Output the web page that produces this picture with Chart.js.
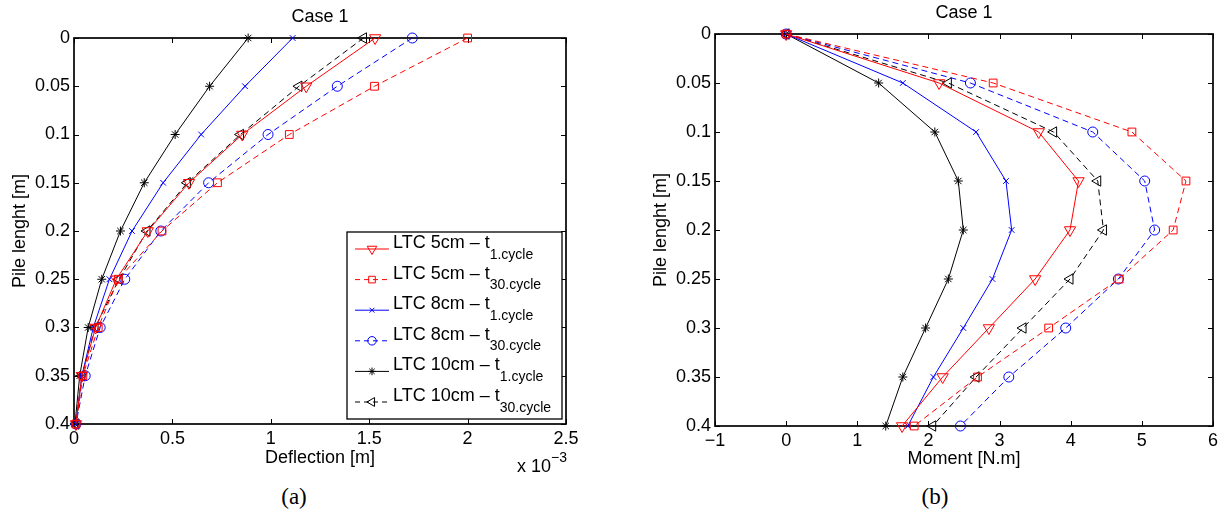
<!DOCTYPE html>
<html>
<head>
<meta charset="utf-8">
<script src="https://cdn.jsdelivr.net/npm/chart.js@4.4.1/dist/chart.umd.min.js"></script>
<style>
  body { margin: 0; background: #fff; }
  #wrap { position: relative; width: 1229px; height: 516px; background: #fff; overflow: hidden; }
  .panel { position: absolute; top: 0; height: 480px; }
  .cap { position: absolute; top: 483px; font-family: "Liberation Serif", "Times New Roman", serif;
         font-size: 23px; line-height: 28px; transform: translateX(-50%); color: #000; }
</style>
</head>
<body>
<div id="wrap">
  <div class="panel" style="left:0;width:640px"><canvas id="deflectionChart"></canvas></div>
  <div class="panel" style="left:640px;width:589px"><canvas id="momentChart"></canvas></div>
  <div class="cap" style="left:294px">(a)</div>
  <div class="cap" style="left:935px">(b)</div>
</div>
<script>
// depth along the pile [m]
const depth = [0, 0.05, 0.1, 0.15, 0.2, 0.25, 0.3, 0.35, 0.4];

// deflection, in units of 1e-3 m (axis shows "x 10^-3")
const deflLtc5First   = [1.53, 1.18, 0.855, 0.584, 0.375, 0.215, 0.11, 0.04, 0.01];
const deflLtc5Last    = [2.00, 1.527, 1.094, 0.729, 0.447, 0.225, 0.123, 0.045, 0.01];
const deflLtc8First   = [1.111, 0.869, 0.646, 0.453, 0.295, 0.18, 0.098, 0.04, 0.01];
const deflLtc8Last    = [1.719, 1.338, 0.986, 0.684, 0.441, 0.258, 0.133, 0.057, 0.01];
const deflLtc10First  = [0.885, 0.689, 0.514, 0.357, 0.236, 0.141, 0.072, 0.029, 0.005];
const deflLtc10Last   = [1.471, 1.143, 0.846, 0.576, 0.371, 0.229, 0.107, 0.04, 0.01];

// bending moment [N.m]
const momLtc5First   = [0, 2.15, 3.55, 4.11, 3.99, 3.50, 2.85, 2.20, 1.63];
const momLtc5Last    = [0, 2.91, 4.86, 5.62, 5.44, 4.68, 3.69, 2.69, 1.80];
const momLtc8First   = [0, 1.64, 2.67, 3.09, 3.17, 2.90, 2.49, 2.07, 1.71];
const momLtc8Last    = [0, 2.59, 4.31, 5.04, 5.18, 4.67, 3.93, 3.13, 2.45];
const momLtc10First  = [0, 1.30, 2.09, 2.42, 2.49, 2.28, 1.96, 1.64, 1.40];
const momLtc10Last   = [0, 2.28, 3.76, 4.38, 4.46, 3.99, 3.33, 2.67, 2.06];

const seriesNames = ["LTC 5cm \u2013 t", "LTC 5cm \u2013 t", "LTC 8cm \u2013 t",
                     "LTC 8cm \u2013 t", "LTC 10cm \u2013 t", "LTC 10cm \u2013 t"];
const seriesSubs  = ["1.cycle", "30.cycle", "1.cycle", "30.cycle", "1.cycle", "30.cycle"];

const deflTicks = [0, 0.5, 1, 1.5, 2, 2.5];
const momentTicks = [-1, 0, 1, 2, 3, 4, 5, 6];
const depthTicks = [0, 0.05, 0.1, 0.15, 0.2, 0.25, 0.3, 0.35, 0.4];

// styling per series (kept apart from the data)
const seriesColors  = ["#ff0000", "#ff0000", "#0000ff", "#0000ff", "#000000", "#000000"];
const seriesDashed  = [false, true, false, true, false, true];
const seriesMarkers = ["triangle", "rect", "crossRot", "circle", "star", "triangle"];
const seriesRot     = [180, 0, 0, 0, 0, 270];
const seriesRadius  = [6.5, 5.5, 4, 5, 4.5, 6];

const plotFont = "'Liberation Sans', Arial, Helvetica, sans-serif";
const clear = "rgba(0,0,0,0)";

function buildSets(xSeries) {
  return xSeries.map((xs, i) => ({
    label: seriesNames[i] + seriesSubs[i],
    data: depth.map((d, k) => ({ x: xs[k], y: d })),
    borderColor: seriesColors[i],
    backgroundColor: clear,
    borderWidth: 1,
    borderDash: seriesDashed[i] ? [6, 4] : [],
    pointStyle: seriesMarkers[i],
    pointRotation: seriesRot[i],
    pointRadius: seriesRadius[i],
    pointHoverRadius: seriesRadius[i],
    pointBorderColor: seriesColors[i],
    pointBackgroundColor: clear,
    pointBorderWidth: 1,
    tension: 0,
    clip: false
  }));
}

// box round the plot and inward tick marks on all four sides
const matlabFrame = {
  id: "matlabFrame",
  beforeDatasetsDraw(chart) {
    const { ctx, chartArea: a, scales: { x, y } } = chart;
    ctx.save();
    ctx.strokeStyle = "#000";
    ctx.lineWidth = 1;
    ctx.beginPath();
    x.ticks.forEach(t => {
      const px = Math.round(x.getPixelForValue(t.value)) + 0.5;
      ctx.moveTo(px, a.top); ctx.lineTo(px, a.top + 5);
      ctx.moveTo(px, a.bottom); ctx.lineTo(px, a.bottom - 5);
    });
    y.ticks.forEach(t => {
      const py = Math.round(y.getPixelForValue(t.value)) + 0.5;
      ctx.moveTo(a.left, py); ctx.lineTo(a.left + 5, py);
      ctx.moveTo(a.right, py); ctx.lineTo(a.right - 5, py);
    });
    ctx.stroke();
    ctx.lineWidth = 1.7;
    ctx.strokeRect(a.left, a.top, a.right - a.left, a.bottom - a.top);
    ctx.restore();
  }
};

// "Case 1" title and the optional x 10^-3 multiplier
const caseTitle = {
  id: "caseTitle",
  afterDraw(chart, args, opts) {
    const { ctx, chartArea: a } = chart;
    ctx.save();
    ctx.fillStyle = "#000";
    ctx.font = "18px " + plotFont;
    ctx.textAlign = "center";
    ctx.textBaseline = "middle";
    ctx.fillText(opts.text, (a.left + a.right) / 2, opts.y);
    if (opts.exponent) {
      ctx.textAlign = "right";
      ctx.textBaseline = "alphabetic";
      ctx.font = "14px " + plotFont;
      const supW = ctx.measureText(opts.exponent).width;
      ctx.fillText(opts.exponent, a.right + 1, a.bottom + 38);
      ctx.font = "18px " + plotFont;
      ctx.fillText("x 10", a.right + 1 - supW, a.bottom + 48);
    }
    ctx.restore();
  }
};

// legend box inside the plot, with subscripts
const boxLegend = {
  id: "boxLegend",
  afterDraw(chart, args, opts) {
    if (!opts.show) return;
    const { ctx, chartArea: a } = chart;
    const right = a.right - 4, bottom = a.bottom - 5;
    const w = 215, h = 187, left = right - w, top = bottom - h;
    ctx.save();
    ctx.fillStyle = "#fff";
    ctx.fillRect(left, top, w, h);
    ctx.strokeStyle = "#000";
    ctx.lineWidth = 1.3;
    ctx.strokeRect(left, top, w, h);
    chart.data.datasets.forEach((ds, i) => {
      const ly = top + 17 + i * 30.6;
      const mx = left + 25;
      ctx.strokeStyle = ds.borderColor;
      ctx.lineWidth = 1;
      ctx.setLineDash(seriesDashed[i] ? [5, 4] : []);
      ctx.beginPath();
      ctx.moveTo(left + 8, ly); ctx.lineTo(left + 42, ly);
      ctx.stroke();
      ctx.setLineDash([]);
      ctx.fillStyle = clear;
      Chart.helpers.drawPoint(ctx, {
        pointStyle: ds.pointStyle, rotation: ds.pointRotation,
        radius: ds.pointRadius * 0.85, borderWidth: 1
      }, mx, ly);
      ctx.fillStyle = "#000";
      ctx.textAlign = "left";
      ctx.textBaseline = "alphabetic";
      ctx.font = "18px " + plotFont;
      const tx = left + 46;
      ctx.fillText(seriesNames[i], tx, ly - 1);
      const tw = ctx.measureText(seriesNames[i]).width;
      ctx.font = "14px " + plotFont;
      ctx.fillText(seriesSubs[i], tx + tw, ly + 9.5);
    });
    ctx.restore();
  }
};

function axisOptions(cfg) {
  const tickFont = { family: plotFont, size: 18 };
  const titleFont = { family: plotFont, size: 18 };
  return {
    x: {
      type: "linear",
      min: cfg.xTicks[0],
      max: cfg.xTicks[cfg.xTicks.length - 1],
      afterBuildTicks: s => { s.ticks = cfg.xTicks.map(v => ({ value: v })); },
      ticks: { color: "#000", font: tickFont, padding: 4, maxRotation: 0,
               callback: cfg.xFormat },
      grid: { display: false, drawTicks: false },
      border: { display: false },
      title: { display: true, text: cfg.xTitle, color: "#000", font: titleFont,
               padding: { top: 0, bottom: cfg.xTitlePad } },
      afterFit: s => { s.height = cfg.xHeight; }
    },
    y: {
      type: "linear",
      reverse: true,
      min: 0,
      max: 0.4,
      afterBuildTicks: s => { s.ticks = depthTicks.map(v => ({ value: v })); },
      ticks: { color: "#000", font: tickFont, padding: 4,
               callback: v => String(+v.toFixed(2)) },
      grid: { display: false, drawTicks: false },
      border: { display: false },
      title: { display: true, text: "Pile lenght [m]", color: "#000", font: titleFont,
               padding: { top: cfg.yTitlePad, bottom: 0 } },
      afterFit: s => { s.width = cfg.yWidth; }
    }
  };
}

new Chart(document.getElementById("deflectionChart").getContext("2d"), {
  type: "line",
  data: {
    datasets: buildSets([deflLtc5First, deflLtc5Last, deflLtc8First,
                         deflLtc8Last, deflLtc10First, deflLtc10Last])
  },
  options: {
    responsive: true,
    maintainAspectRatio: false,
    animation: false,
    layout: { padding: { left: 0, right: 74, top: 38, bottom: 0 } },
    scales: axisOptions({
      xTicks: deflTicks, xFormat: v => String(+v.toFixed(1)),
      xTitle: "Deflection [m]", xTitlePad: 11, xHeight: 56,
      yTitlePad: 9, yWidth: 74
    }),
    plugins: {
      legend: { display: false },
      tooltip: { enabled: false },
      caseTitle: { text: "Case 1", y: 17, exponent: "\u22123" },
      boxLegend: { show: true }
    }
  },
  plugins: [matlabFrame, caseTitle, boxLegend]
});

new Chart(document.getElementById("momentChart").getContext("2d"), {
  type: "line",
  data: {
    datasets: buildSets([momLtc5First, momLtc5Last, momLtc8First,
                         momLtc8Last, momLtc10First, momLtc10Last])
  },
  options: {
    responsive: true,
    maintainAspectRatio: false,
    animation: false,
    layout: { padding: { left: 0, right: 16, top: 34, bottom: 0 } },
    scales: axisOptions({
      xTicks: momentTicks, xFormat: v => (v < 0 ? "\u2212" + Math.abs(v) : String(v)),
      xTitle: "Moment [N.m]", xTitlePad: 10, xHeight: 54,
      yTitlePad: 10, yWidth: 75
    }),
    plugins: {
      legend: { display: false },
      tooltip: { enabled: false },
      caseTitle: { text: "Case 1", y: 13 },
      boxLegend: { show: false }
    }
  },
  plugins: [matlabFrame, caseTitle, boxLegend]
});
</script>
</body>
</html>
